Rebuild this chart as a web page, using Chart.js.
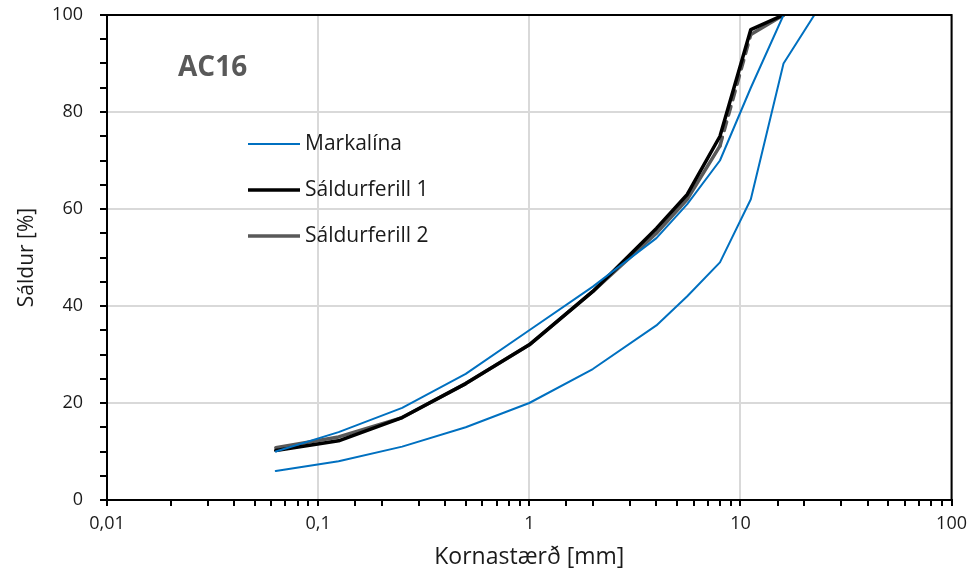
<!DOCTYPE html>
<html>
<head>
<meta charset="utf-8">
<script src="https://cdn.jsdelivr.net/npm/chart.js@4.4.1/dist/chart.umd.min.js"></script>
<style>
  html, body { margin: 0; padding: 0; background: #fff; }
  #wrap { width: 974px; height: 571px; }
</style>
</head>
<body>
<div id="wrap"><canvas id="chart" width="974" height="571"></canvas></div>
<script>
// Sieve sizes [mm]
const sieves = [0.063, 0.125, 0.25, 0.5, 1, 2, 4, 5.6, 8, 11.2, 16, 22.4];

// Grading envelope (Markalína), upper and lower
const upperLimit = [10, 14, 19, 26, 35, 44, 54, 61, 70, 85, 100, null];
const lowerLimit = [6, 8, 11, 15, 20, 27, 36, 42, 49, 62, 90, 100];

// Measured curves
const curve1 = [10.2, 12.2, 17, 24, 32, 43, 56, 63, 75, 97, 100, null];
const curve2 = [10.8, 13, 17, 24, 32, 43, 55, 62, 73, 96, 100, null];

const xTickLabels = { 0.01: '0,01', 0.1: '0,1', 1: '1', 10: '10', 100: '100' };
const yLabelStep = 20;

const FONT = '"Open Sans", Lato, sans-serif';

function toPoints(values) {
  return sieves.map((s, i) => ({ x: s, y: values[i] })).filter(p => p.y !== null);
}

function isDecade(v) {
  const l = Math.log10(v);
  return Math.abs(l - Math.round(l)) < 1e-9;
}

// Legend drawn inside the plot, Markalína shown once
const legendItems = [
  { label: 'Markalína', color: '#0070C0', width: 2 },
  { label: 'Sáldurferill 1', color: '#000000', width: 3.5 },
  { label: 'Sáldurferill 2', color: '#595959', width: 3.5 }
];

const insidePlugin = {
  id: 'insideLegend',
  afterDraw(chart) {
    const { ctx, chartArea } = chart;
    ctx.save();
    // frame top and right
    ctx.strokeStyle = '#000';
    ctx.lineWidth = 2;
    ctx.beginPath();
    ctx.moveTo(chartArea.left, chartArea.top);
    ctx.lineTo(chartArea.right, chartArea.top);
    ctx.lineTo(chartArea.right, chartArea.bottom);
    ctx.stroke();

    // sample name
    ctx.fillStyle = '#595959';
    ctx.font = 'bold 28px ' + FONT;
    ctx.textBaseline = 'middle';
    ctx.textAlign = 'left';
    ctx.fillText('AC16', chartArea.left + 71, chartArea.top + 53);

    // legend
    ctx.font = '21px ' + FONT;
    legendItems.forEach((item, i) => {
      const y = chartArea.top + 129 + i * 46;
      ctx.strokeStyle = item.color;
      ctx.lineWidth = item.width;
      ctx.beginPath();
      ctx.moveTo(chartArea.left + 141, y);
      ctx.lineTo(chartArea.left + 193, y);
      ctx.stroke();
      ctx.fillStyle = '#1a1a1a';
      ctx.fillText(item.label, chartArea.left + 198, y);
    });
    ctx.restore();
  }
};

const dashedSegment = {
  borderDash: ctx => (ctx.p0.parsed.x === 8 ? [9, 7] : undefined)
};

new Chart(document.getElementById('chart'), {
  type: 'line',
  data: {
    datasets: [
      { label: 'Markalína', data: toPoints(upperLimit), borderColor: '#0070C0', borderWidth: 2 },
      { label: 'Markalína', data: toPoints(lowerLimit), borderColor: '#0070C0', borderWidth: 2 },
      { label: 'Sáldurferill 1', data: toPoints(curve1), borderColor: '#000000', borderWidth: 3.5 },
      { label: 'Sáldurferill 2', data: toPoints(curve2), borderColor: '#595959', borderWidth: 3.5, segment: dashedSegment }
    ]
  },
  options: {
    responsive: false,
    animation: false,
    layout: { padding: { left: 0, right: 21, top: 15, bottom: 0 } },
    elements: {
      point: { radius: 0 },
      line: { tension: 0, borderCapStyle: 'round', borderJoinStyle: 'round', fill: false }
    },
    plugins: { legend: { display: false }, tooltip: { enabled: false } },
    scales: {
      x: {
        type: 'logarithmic',
        min: 0.01,
        max: 100,
        afterFit: s => { s.height = 71; },
        border: { display: true, color: '#000', width: 2 },
        grid: {
          color: ctx => (ctx.tick && isDecade(ctx.tick.value) ? '#d9d9d9' : 'rgba(0,0,0,0)'),
          lineWidth: 2,
          tickColor: '#000',
          tickLength: 6,
          drawTicks: true
        },
        ticks: {
          autoSkip: false,
          maxRotation: 0,
          padding: 7,
          color: '#1a1a1a',
          font: { family: FONT, size: 18 },
          callback: v => (isDecade(v) ? xTickLabels[Math.round(v * 100) / 100] : '')
        },
        title: {
          display: true,
          text: 'Kornastærð [mm]',
          color: '#1a1a1a',
          font: { family: FONT, size: 23 },
          padding: { top: 0, bottom: 0 }
        }
      },
      y: {
        min: 0,
        max: 100,
        afterFit: s => { s.width = 107; s.paddingTop = 0; s.paddingBottom = 0; },
        border: { display: true, color: '#000', width: 2 },
        grid: {
          color: ctx => (ctx.tick && ctx.tick.value % yLabelStep === 0 ? '#d9d9d9' : 'rgba(0,0,0,0)'),
          lineWidth: 2,
          tickColor: '#000',
          tickLength: 7
        },
        ticks: {
          stepSize: 5,
          autoSkip: false,
          padding: 17,
          color: '#1a1a1a',
          font: { family: FONT, size: 18 },
          callback: v => (v % yLabelStep === 0 ? String(v) : '')
        },
        title: {
          display: true,
          text: 'Sáldur [%]',
          color: '#1a1a1a',
          font: { family: FONT, size: 21 },
          padding: { top: 14, bottom: 0 }
        }
      }
    }
  },
  plugins: [insidePlugin]
});
</script>
</body>
</html>
